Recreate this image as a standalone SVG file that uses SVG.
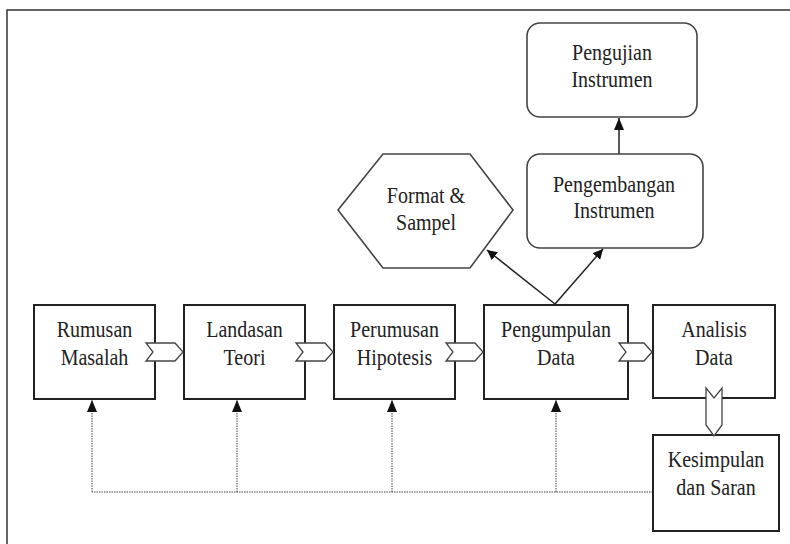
<svg xmlns="http://www.w3.org/2000/svg" width="790" height="544" viewBox="0 0 790 544">
<style>
  .box { fill: #fff; stroke: #222; stroke-width: 2; }
  .rbox { fill: #fff; stroke: #444; stroke-width: 1.6; }
  .lbl { font-family: "Liberation Serif", "Times New Roman", serif; font-size: 20px; fill: #222; text-anchor: middle; }
  .chev { fill: #fff; stroke: #444; stroke-width: 1.3; stroke-linejoin: miter; }
  .solid { fill: none; stroke: #222; stroke-width: 1.5; }
  .dot { fill: none; stroke: #444; stroke-width: 1; stroke-dasharray: 1.5 1; }
  .frame { fill: none; stroke: #333; stroke-width: 1.5; }
</style>
<defs>
  <marker id="ah" viewBox="0 0 10 10" refX="10" refY="5" markerWidth="10" markerHeight="10" markerUnits="userSpaceOnUse" orient="auto">
    <path d="M0,0 L10,5 L0,10 z" fill="#111"/>
  </marker>
  <marker id="ahb" viewBox="0 0 12 10" refX="12" refY="5" markerWidth="12" markerHeight="10" markerUnits="userSpaceOnUse" orient="auto">
    <path d="M0,0 L12,5 L0,10 z" fill="#111"/>
  </marker>
</defs>
<rect width="790" height="544" fill="#fff"/>
<path class="frame" d="M7,544 L7,10 L790,10"/>

<g id="connectors">
  <line class="solid" x1="555" y1="304" x2="487" y2="250" marker-end="url(#ah)"/>
  <line class="solid" x1="555" y1="304" x2="603" y2="249" marker-end="url(#ah)"/>
  <line class="solid" x1="619" y1="154" x2="619" y2="118" marker-end="url(#ahb)"/>
  <path class="dot" d="M653,492 L92,492"/>
  <line class="dot" x1="92" y1="492" x2="92" y2="400" marker-end="url(#ahb)"/>
  <line class="dot" x1="237" y1="492" x2="237" y2="400" marker-end="url(#ahb)"/>
  <line class="dot" x1="392" y1="492" x2="392" y2="400" marker-end="url(#ahb)"/>
  <line class="dot" x1="556" y1="492" x2="556" y2="400" marker-end="url(#ahb)"/>
</g>

<g id="rumusan-masalah">
  <rect class="box" x="34" y="305" width="121" height="94"/>
  <text class="lbl" transform="translate(94.5,337) scale(1,1.15)">Rumusan</text>
  <text class="lbl" transform="translate(94.5,365) scale(1,1.15)">Masalah</text>
</g>
<g id="landasan-teori">
  <rect class="box" x="184" y="305" width="121" height="94"/>
  <text class="lbl" transform="translate(244.5,337) scale(1,1.15)">Landasan</text>
  <text class="lbl" transform="translate(244.5,365) scale(1,1.15)">Teori</text>
</g>
<g id="perumusan-hipotesis">
  <rect class="box" x="334" y="305" width="121" height="94"/>
  <text class="lbl" transform="translate(394.5,337) scale(1,1.15)">Perumusan</text>
  <text class="lbl" transform="translate(394.5,365) scale(1,1.15)">Hipotesis</text>
</g>
<g id="pengumpulan-data">
  <rect class="box" x="484" y="305" width="144" height="94"/>
  <text class="lbl" transform="translate(556,337) scale(1,1.15)">Pengumpulan</text>
  <text class="lbl" transform="translate(556,365) scale(1,1.15)">Data</text>
</g>
<g id="analisis-data">
  <rect class="box" x="653" y="305" width="122" height="93"/>
  <text class="lbl" transform="translate(714,337) scale(1,1.15)">Analisis</text>
  <text class="lbl" transform="translate(714,365) scale(1,1.15)">Data</text>
</g>
<g id="kesimpulan-saran">
  <rect class="box" x="653" y="435" width="126" height="96"/>
  <text class="lbl" transform="translate(716,467) scale(1,1.15)">Kesimpulan</text>
  <text class="lbl" transform="translate(716,495) scale(1,1.15)">dan Saran</text>
</g>
<g id="format-sampel">
  <polygon class="rbox" points="338,210 383,154 470,154 513,210 470,268 383,268"/>
  <text class="lbl" transform="translate(426,203) scale(1,1.15)">Format &amp;</text>
  <text class="lbl" transform="translate(426,230) scale(1,1.15)">Sampel</text>
</g>
<g id="pengembangan-instrumen">
  <rect class="rbox" x="527" y="154" width="176" height="94" rx="13"/>
  <text class="lbl" transform="translate(614,192) scale(1,1.15)">Pengembangan</text>
  <text class="lbl" transform="translate(614,218) scale(1,1.15)">Instrumen</text>
</g>
<g id="pengujian-instrumen">
  <rect class="rbox" x="527" y="23" width="170" height="94" rx="13"/>
  <text class="lbl" transform="translate(612,60) scale(1,1.15)">Pengujian</text>
  <text class="lbl" transform="translate(612,87) scale(1,1.15)">Instrumen</text>
</g>

<g id="flow-arrows">
  <polygon class="chev" points="146,343 175,343 183,352 175,361 146,361 153,352"/>
  <polygon class="chev" points="296,343 325,343 333,352 325,361 296,361 303,352"/>
  <polygon class="chev" points="446,343 475,343 483,352 475,361 446,361 453,352"/>
  <polygon class="chev" points="619,343 644,343 652,352 644,361 619,361 626,352"/>
  <polygon class="chev" points="706,388 714,398 722,388 722,425 714,436 706,425"/>
</g>
</svg>
